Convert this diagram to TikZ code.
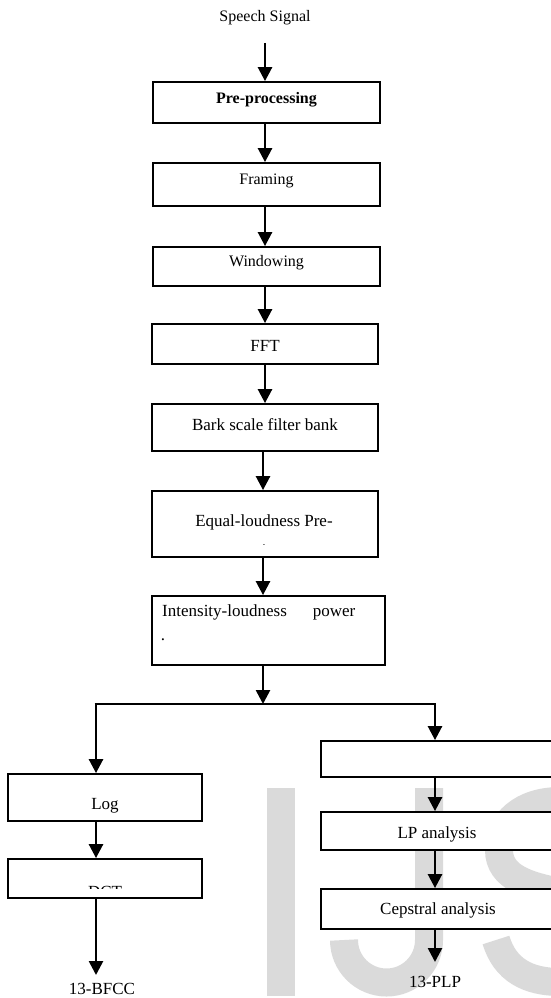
\documentclass[tikz,border=0pt]{standalone}
\usepackage{fontspec}
\setmainfont{Liberation Serif}
\usetikzlibrary{arrows.meta}
\definecolor{wm}{RGB}{218,218,218}
\tikzset{
  box/.style={draw=black, fill=white, line width=1.8pt, rectangle, inner sep=0pt},
  txt/.style={inner sep=0pt, font=\fontsize{17}{20}\selectfont},
  ttxt/.style={inner sep=0pt, font=\fontsize{16}{19}\selectfont},
  arr/.style={line width=2.6pt, -{Triangle[length=14pt,width=14pt]}},
  plain/.style={line width=2.6pt},
  wmark/.style={draw=wm, line width=28pt}
}
\begin{document}
\begin{tikzpicture}[x=1pt,y=-1pt]
\useasboundingbox (0,0) rectangle (551,998);
\clip (0,0) rectangle (551,998);
% watermark
\fill[wm] (267,788) rectangle (295,996);
\draw[wmark] (429,788) -- (429,940) arc[start angle=0,end angle=180,radius=42.5];
\draw[wmark] (618,828) .. controls (605,808) and (585,801) .. (560,801)
  .. controls (522,801) and (499,822) .. (499,850)
  .. controls (499,878) and (530,886) .. (560,892)
  .. controls (595,899) and (621,910) .. (621,937)
  .. controls (621,966) and (595,982) .. (560,982)
  .. controls (528,982) and (505,970) .. (496,940);
% top
\node[ttxt] (sig) at (265,18) {Speech Signal};
\coordinate (s0) at (265,43);
\node[box, minimum width=227pt, minimum height=41pt] (pre) at (266.5,102.5) {};
\node[ttxt, font=\fontsize{16}{19}\selectfont\bfseries] (pret) at (266.5,100) {Pre-processing};
\node[box, minimum width=227pt, minimum height=43pt] (fra) at (266.5,184.5) {};
\node[ttxt] (frat) at (266.5,181) {Framing};
\node[box, minimum width=227pt, minimum height=39pt] (win) at (266.5,266.5) {};
\node[ttxt] (wint) at (266.5,263) {Windowing};
\node[box, minimum width=226pt, minimum height=40pt] (fft) at (265,344) {};
\node[txt] (fftt) at (265,346) {FFT};
\node[box, minimum width=226pt, minimum height=47pt] (bark) at (265,427.5) {};
\node[txt] (barkt) at (265,425) {Bark scale filter bank};
\node[box, minimum width=226pt, minimum height=66pt] (eq) at (265,524) {};
\node[txt] (eqt) at (264,522) {Equal-loudness Pre-};
\node[inner sep=0pt, font=\fontsize{7}{7}\selectfont] (eqd) at (264,546) {-};
\node[box, minimum width=233pt, minimum height=69pt] (int) at (268.5,630.5) {};
\node[txt, anchor=west] (intt) at (162,612) {Intensity-loudness\hspace{26pt}power};
\node[txt] (intd) at (163,640) {.};
% splits
\coordinate (sp) at (263,704);
\coordinate (spl) at (96,704);
\coordinate (spr) at (435,704);
% left branch
\node[box, minimum width=194pt, minimum height=47pt] (log) at (105,797.5) {};
\node[txt] (logt) at (105,806) {Log};
\node[box, minimum width=194pt, minimum height=39pt] (dct) at (105,878.5) {};
\begin{scope}
\clip (10,860) rectangle (200,888.5);
\node[txt] (dctt) at (105,891.5) {DCT};
\end{scope}
\coordinate (bf) at (96,975);
\node[txt] (bfcc) at (102,988.5) {13-BFCC};
% right branch
\node[box, minimum width=239pt, minimum height=36pt] (r1) at (440.5,759) {};
\node[box, minimum width=239pt, minimum height=38pt] (lp) at (440.5,831) {};
\node[txt] (lpt) at (437,834) {LP analysis};
\node[box, minimum width=239pt, minimum height=40pt] (cep) at (440.5,909) {};
\node[txt] (cept) at (438,910) {Cepstral analysis};
\coordinate (pl) at (435,962);
\node[txt] (plp) at (435,982) {13-PLP};
% connectors
\draw[arr] (s0) -- (s0 |- pre.north);
\draw[arr] (pre.south -| s0) -- (s0 |- fra.north);
\draw[arr] (fra.south -| s0) -- (s0 |- win.north);
\draw[arr] (win.south -| s0) -- (s0 |- fft.north);
\draw[arr] (fft.south -| s0) -- (s0 |- bark.north);
\draw[arr] (bark.south -| sp) -- (sp |- eq.north);
\draw[arr] (eq.south -| sp) -- (sp |- int.north);
\draw[arr] (int.south -| sp) -- (sp);
\draw[plain] ([xshift=-1.3pt]spl) -- ([xshift=1.3pt]spr);
\draw[arr] (spl) -- (spl |- log.north);
\draw[arr] (spr) -- (spr |- r1.north);
\draw[arr] (log.south -| spl) -- (spl |- dct.north);
\draw[arr] (dct.south -| spl) -- (bf);
\draw[arr] (r1.south -| spr) -- (spr |- lp.north);
\draw[arr] (lp.south -| spr) -- (spr |- cep.north);
\draw[arr] (cep.south -| spr) -- (pl);
\end{tikzpicture}
\end{document}
